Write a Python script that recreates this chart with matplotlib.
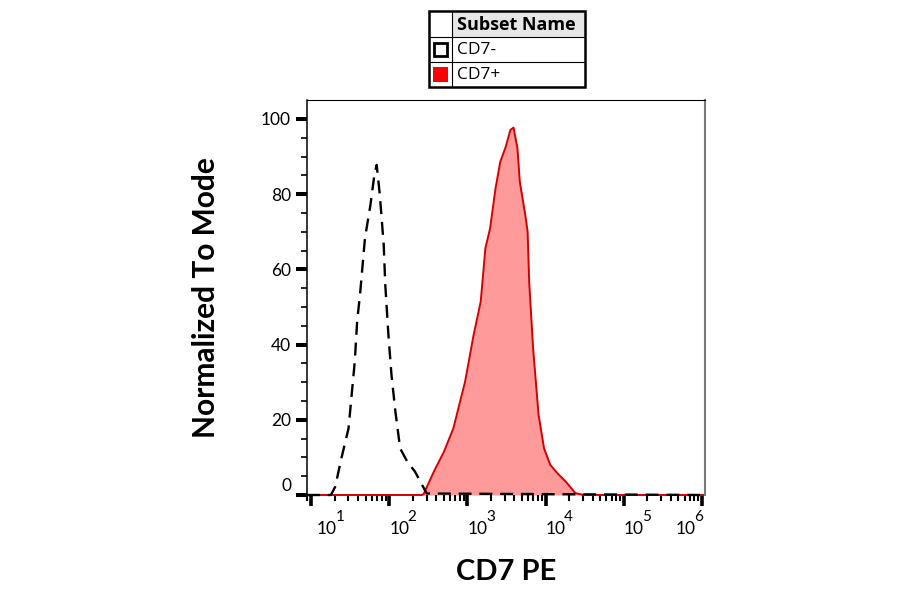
import numpy as np
import matplotlib
matplotlib.use("Agg")
import matplotlib.pyplot as plt
from matplotlib.patches import Rectangle
from matplotlib.ticker import FixedLocator, LogLocator, NullFormatter
import matplotlib.transforms as mtransforms

# Data (CD7 PE intensity, normalized to mode)
neg_x = [8.9, 18, 20.4, 24.5, 30.2, 33.1, 36.3, 38.9, 42.7, 49.0, 57.5, 64.6, 69.2,
         75.9, 85.1, 89.1, 97.7, 107, 120, 138, 170, 214, 263, 302, 1.09e6]
neg_y = [0, 0, 2.2, 9.8, 17.7, 26.6, 35.5, 46.1, 54.1, 68.3, 77.1, 85.1, 87.8,
         79.8, 66.5, 55.9, 42.6, 31.9, 22.2, 12.4, 8.9, 6.2, 2.7, 0.4, 0]

pos_x = [8.9, 262, 275, 372, 501, 661, 933, 1202, 1479, 1698, 1950, 2291, 2630, 3090,
         3548, 3890, 4365, 4677, 5495, 5888, 6166, 6918, 8128, 9550, 11480, 14130,
         18200, 23990, 30900, 1.09e6]
pos_y = [0, 0, 0.2, 6.2, 11.5, 17.7, 30.1, 42.6, 51.4, 65.6, 70.9, 81.6, 88.6, 92.6,
         97.1, 97.7, 92.2, 83.3, 74.5, 70.0, 56.7, 39.0, 21.3, 12.4, 8.0, 5.8,
         3.5, 0.5, 0, 0]

subsets = ["CD7-", "CD7+"]
decades = [1, 2, 3, 4, 5, 6]
y_major = [0, 20, 40, 60, 80, 100]

plt.rcParams['font.family'] = ['Lato', 'DejaVu Sans']

fig = plt.figure(figsize=(9, 5.94), dpi=100)
ax = fig.add_axes([307 / 900, 1 - 495 / 594, 398 / 900, 395 / 594])

ax.fill_between(pos_x, 0, pos_y, color='#ff9a9a', lw=0, zorder=1)
ax.plot(pos_x, pos_y, color='#d40000', lw=1.4, zorder=2, clip_on=False)
ax.plot(neg_x, neg_y, color='black', lw=1.7, ls=(0, (5.5, 3.3)), zorder=3,
        clip_on=False)

ax.set_xscale('log')
ax.set_xlim(10 ** 0.949, 10 ** 6.038)
ax.set_ylim(0, 105.05)

ax.yaxis.set_major_locator(FixedLocator(y_major))
ax.yaxis.set_minor_locator(FixedLocator(np.arange(0, 101, 5)))
ax.xaxis.set_major_locator(FixedLocator([10.0 ** d for d in decades]))
ax.xaxis.set_minor_locator(LogLocator(base=10, subs=np.arange(2, 10), numticks=20))
ax.xaxis.set_major_formatter(NullFormatter())
ax.xaxis.set_minor_formatter(NullFormatter())

ax.tick_params(axis='y', which='major', length=7.9, width=2.9, pad=3.6,
               labelsize=12.5, direction='out')
ax.tick_params(axis='y', which='minor', length=4.3, width=1.2, direction='out')
ax.tick_params(axis='x', which='major', length=8, width=2.6, direction='out')
ax.tick_params(axis='x', which='minor', length=4.3, width=1.5, direction='out')

ylabels = ax.get_yticklabels()
ylabels[0].set_va('bottom')
ylabels[0].set_transform(ylabels[0].get_transform() +
                         mtransforms.ScaledTranslation(0, 1 / 100, fig.dpi_scale_trans))

ax.spines['bottom'].set_visible(False)
ax.spines['top'].set_linewidth(0.8)
ax.spines['left'].set_linewidth(1.1)
ax.spines['right'].set_color('#7a7a7a')
ax.spines['right'].set_linewidth(1.5)

# decade labels, FlowJo style
xt = ax.get_xaxis_transform()
for d in decades:
    dx = 0
    if d == decades[0]:
        dx = 6
    if d == decades[-1]:
        dx = -26
    tr_base = mtransforms.offset_copy(xt, fig=fig, x=dx, y=-26, units='dots')
    tr_exp = mtransforms.offset_copy(xt, fig=fig, x=dx + 18.5, y=-15, units='dots')
    ax.text(10.0 ** d, 0, "10", transform=tr_base, ha='left', va='top', fontsize=12.5)
    ax.text(10.0 ** d, 0, str(d), transform=tr_exp, ha='left', va='top', fontsize=11)

fig.text(506 / 900, 1 - 572 / 594, "CD7 PE", ha='center', va='center',
         fontsize=21, fontweight='bold')
fig.text(206 / 900, 1 - 298 / 594, "Normalized To Mode", ha='center', va='center',
         rotation=90, fontsize=21.5, fontweight='bold')

# legend table
lg = fig.add_axes([429 / 900, 1 - 87 / 594, 156 / 900, 76 / 594])
lg.set_xlim(0, 156)
lg.set_ylim(76, 0)
lg.axis('off')
lg.add_patch(Rectangle((23, 0), 133, 26, facecolor='#e6e6e6', edgecolor='none'))
lg.add_patch(Rectangle((0, 0), 156, 76, facecolor='none', edgecolor='black',
                       lw=1.8, clip_on=False))
lg.plot([23, 23], [0, 76], color='black', lw=0.8)
lg.plot([0, 156], [26, 26], color='black', lw=0.8)
lg.plot([0, 156], [51, 51], color='black', lw=0.8)
lg.text(28, 13.5, "Subset Name", ha='left', va='center', fontsize=13,
        fontweight='bold', family=['Open Sans', 'DejaVu Sans'])
row_y = [38.5, 63.5]
for name, yy in zip(subsets, row_y):
    lg.text(28, yy + 0.5, name, ha='left', va='center', fontsize=12.5,
            family=['Open Sans', 'DejaVu Sans'])
lg.add_patch(Rectangle((4.5, row_y[0] - 6.5), 13.5, 13.5, facecolor='white',
                       edgecolor='black', lw=2.0))
lg.add_patch(Rectangle((3.5, row_y[1] - 7.5), 15, 15, facecolor='#ff0000',
                       edgecolor='none'))

fig.savefig("out.png", dpi=100, facecolor='white')
